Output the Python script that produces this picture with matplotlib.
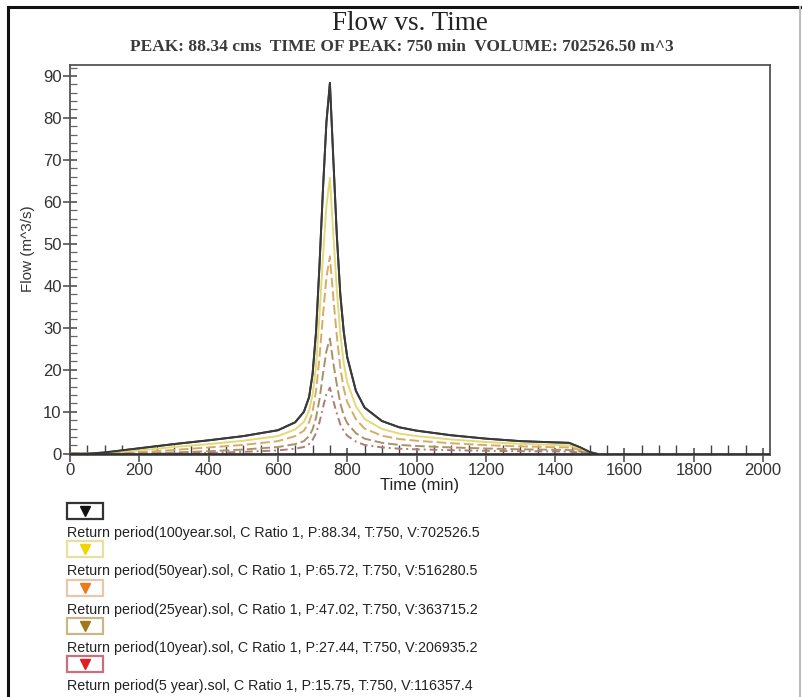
import matplotlib
matplotlib.use("Agg")
import matplotlib.pyplot as plt
from matplotlib.patches import Rectangle
from matplotlib.lines import Line2D
from matplotlib.ticker import MultipleLocator

# ---- data ----
t100 = [0, 50, 100, 150, 200, 300, 400, 500, 600, 650, 675, 690, 700, 710, 720, 730, 740, 750,
        760, 770, 780, 790, 800, 825, 850, 900, 950, 1000, 1100, 1200, 1300, 1400, 1440, 1470, 1500, 1520]
q100 = [0, 0, 0.3, 0.8, 1.3, 2.3, 3.2, 4.2, 5.6, 7.5, 10, 13.5, 19, 29, 45, 63, 79, 88.34,
        70, 52, 38, 29, 23, 15, 11, 7.8, 6.3, 5.5, 4.4, 3.6, 3.0, 2.7, 2.6, 1.6, 0.4, 0]
q50 = [0, 0, 0.1, 0.4, 0.8, 1.6, 2.3, 3.1, 4.2, 5.8, 7.6, 10.3, 14, 21, 33, 47, 59, 65.72,
       52, 39, 28.5, 21.5, 17, 11.3, 8.3, 5.9, 4.8, 4.2, 3.4, 2.8, 2.35, 2.1, 2.0, 1.2, 0.3, 0]
q25 = [0, 0, 0, 0.1, 0.35, 0.9, 1.5, 2.1, 3.0, 4.2, 5.5, 7.5, 10, 15, 23, 33, 42, 47.02,
       37, 28, 20.5, 15.5, 12.3, 8.2, 6, 4.3, 3.5, 3.1, 2.5, 2.05, 1.75, 1.55, 1.5, 0.9, 0.2, 0]
q10 = [0, 0, 0, 0, 0.05, 0.3, 0.6, 1.0, 1.6, 2.3, 3.0, 4.2, 5.8, 8.6, 13, 19, 24.5, 27.44,
       21.5, 16.5, 12, 9.1, 7.3, 4.9, 3.6, 2.6, 2.1, 1.85, 1.5, 1.25, 1.05, 0.95, 0.9, 0.55, 0.1, 0]
q5 = [0, 0, 0, 0, 0, 0.05, 0.2, 0.45, 0.8, 1.2, 1.6, 2.3, 3.3, 4.9, 7.5, 11, 14.2, 15.75,
      12.5, 9.6, 7.0, 5.4, 4.3, 2.9, 2.1, 1.5, 1.2, 1.05, 0.85, 0.7, 0.6, 0.55, 0.52, 0.3, 0.05, 0]

series = [q100, q50, q25, q10, q5]
labels = [
    "Return period(100year.sol, C Ratio 1, P:88.34, T:750, V:702526.5",
    "Return period(50year).sol, C Ratio 1, P:65.72, T:750, V:516280.5",
    "Return period(25year).sol, C Ratio 1, P:47.02, T:750, V:363715.2",
    "Return period(10year).sol, C Ratio 1, P:27.44, T:750, V:206935.2",
    "Return period(5 year).sol, C Ratio 1, P:15.75, T:750, V:116357.4",
]
x_ticks = [0, 200, 400, 600, 800, 1000, 1200, 1400, 1600, 1800, 2000]
y_ticks = [0, 10, 20, 30, 40, 50, 60, 70, 80, 90]

line_colors = ["#3a3a3a", "#e2da78", "#d8aa68", "#a8926a", "#b07a78"]
line_styles = ["-", "-", (0, (5, 2)), (0, (5, 2)), (0, (4, 2, 1, 2))]
marker_colors = ["#111111", "#f2d400", "#e87a20", "#a07818", "#e02020"]
box_edges = ["#333333", "#e8e0a0", "#e8c8a8", "#c8b888", "#c87080"]

W, H = 803, 697
fig = plt.figure(figsize=(W / 100, H / 100), dpi=100)

def fx(px):
    return px / W

def fy(py):
    return 1 - py / H

# outer border of the picture
fig.add_artist(Line2D([fx(8), fx(8)], [fy(7), fy(700)], color="#111111", lw=2.2))
fig.add_artist(Line2D([fx(8), fx(800)], [fy(7), fy(7)], color="#111111", lw=2.2))
fig.add_artist(Line2D([fx(800), fx(800)], [fy(7), fy(700)], color="#bbbbbb", lw=1.5))

ax_l, ax_r, ax_t, ax_b = 70, 770, 65, 455
ax = fig.add_axes([fx(ax_l), fy(ax_b), (ax_r - ax_l) / W, (ax_b - ax_t) / H])

for q, c, ls in zip(series, line_colors, line_styles):
    ax.plot(t100, q, color=c, ls=ls, lw=1.4, zorder=3)
ax.plot(t100, q100, color=line_colors[0], lw=1.4, zorder=4)
ax.axhline(0, color="#333333", lw=2.0, zorder=5)

ax.set_xlim(0, 2020)
ax.set_ylim(-0.3, 92.6)
ax.set_xticks(x_ticks)
ax.set_yticks(y_ticks)
ax.xaxis.set_minor_locator(MultipleLocator(50))
ax.yaxis.set_minor_locator(MultipleLocator(2))
ax.tick_params(axis="x", which="major", direction="inout", length=10, width=1.1, color="#444444",
               labelsize=12, pad=1)
ax.tick_params(axis="x", which="minor", direction="in", length=7, width=1.0, color="#444444")
ax.tick_params(axis="y", which="major", direction="inout", length=10, width=1.1, color="#444444",
               labelsize=12, pad=1)
ax.tick_params(axis="y", which="minor", direction="in", length=5, width=0.9, color="#666666")
for lab in ax.get_xticklabels() + ax.get_yticklabels():
    lab.set_family("Liberation Sans")
    lab.set_color("#333333")
for s in ax.spines.values():
    s.set_color("#555555")
    s.set_linewidth(1.3)

ax.set_xlabel("Time (min)", family="Liberation Sans", fontsize=12, labelpad=0, color="#222222")
ax.set_ylabel("Flow (m^3/s)", family="Liberation Sans", fontsize=11, color="#333333")
ax.yaxis.set_label_coords(-0.05, 0.53)

fig.text(fx(410), fy(24), "Flow vs. Time", family="Liberation Serif", fontsize=19.5,
         ha="center", va="center", color="#222222")
fig.text(fx(402), fy(47), "PEAK: 88.34 cms  TIME OF PEAK: 750 min  VOLUME: 702526.50 m^3",
         family="Liberation Serif", fontsize=12.5, fontweight="bold", ha="center", va="center",
         color="#3a3a3a")

# legend below the axes
y0, dy = 511, 38.3
for i, (lab, mc, be) in enumerate(zip(labels, marker_colors, box_edges)):
    yc = y0 + i * dy
    fig.add_artist(Rectangle((fx(67), fy(yc + 8)), 36 / W, 16 / H, transform=fig.transFigure,
                             facecolor="white", edgecolor=be, lw=1.6))
    fig.add_artist(Line2D([fx(85)], [fy(yc)], marker="v", markersize=7.5, color=mc,
                          markeredgecolor=mc, linestyle="none"))
    fig.text(fx(67), fy(yc + 22), lab, family="Liberation Sans", fontsize=10.3,
             ha="left", va="center", color="#222222")

fig.savefig("out.png", dpi=100)
